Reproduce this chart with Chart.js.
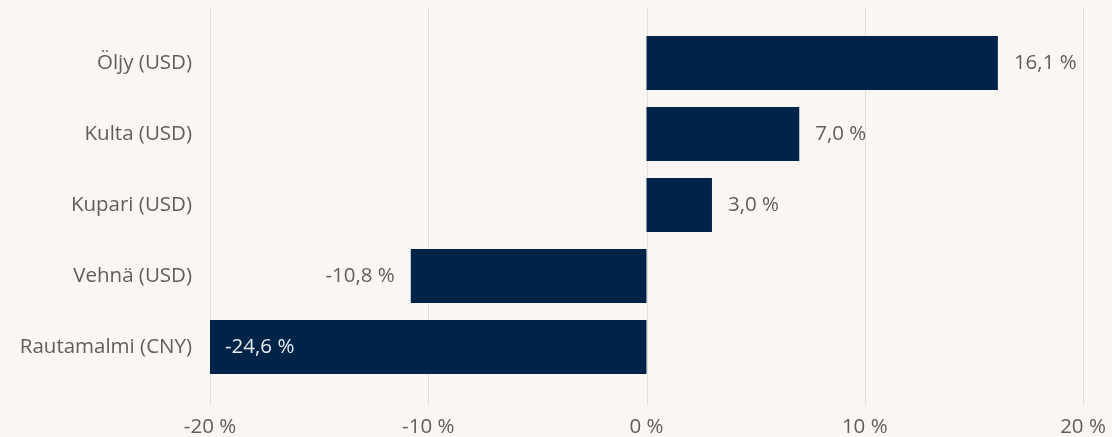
<!DOCTYPE html>
<html>
<head>
<meta charset="utf-8">
<script src="https://cdn.jsdelivr.net/npm/chart.js@4.4.1/dist/chart.umd.min.js"></script>
<style>
    html, body { margin: 0; padding: 0; background: #faf6f4; }
    #wrap { width: 1112px; height: 437px; }
</style>
</head>
<body>
<div id="wrap"><canvas id="chart" width="1112" height="437"></canvas></div>
<script>
// Commodity price change (%)
const categories = ['Öljy (USD)', 'Kulta (USD)', 'Kupari (USD)', 'Vehnä (USD)', 'Rautamalmi (CNY)'];
const changes = [16.1, 7.0, 3.0, -10.8, -24.6];
const axisMin = -20;
const axisMax = 20;
const axisStep = 10;

const FONT = '"Open Sans", "Noto Sans", sans-serif';
const FONT_SIZE = 20.5;
const textGray = '#605e5c';

function fmt(v, digits) {
    return v.toFixed(digits).replace('.', ',') + ' %';
}

// vertical grid lines that run a bit past the plot area, like the original
const gridPlugin = {
    id: 'longGrid',
    beforeDatasetsDraw(chart) {
        const { ctx, chartArea, scales } = chart;
        ctx.save();
        ctx.strokeStyle = '#e2dedc';
        ctx.lineWidth = 1;
        scales.x.ticks.forEach(t => {
            const x = Math.round(scales.x.getPixelForValue(t.value)) + 0.5;
            ctx.beginPath();
            ctx.moveTo(x, chartArea.top - 20.5);
            ctx.lineTo(x, chartArea.bottom + 22.5);
            ctx.stroke();
        });
        ctx.restore();
    }
};

// value labels: outside the bar end, or inside when the bar is cut by the axis
const labelPlugin = {
    id: 'valueLabels',
    afterDatasetsDraw(chart) {
        const { ctx, chartArea } = chart;
        const meta = chart.getDatasetMeta(0);
        ctx.save();
        ctx.font = FONT_SIZE + 'px ' + FONT;
        ctx.textBaseline = 'middle';
        meta.data.forEach((bar, i) => {
            const v = changes[i];
            const txt = fmt(v, 1);
            const clipped = bar.x < chartArea.left || bar.x > chartArea.right;
            if (clipped) {
                ctx.fillStyle = '#e6ebf1';
                if (v < 0) {
                    ctx.textAlign = 'left';
                    ctx.fillText(txt, chartArea.left + 15, bar.y);
                } else {
                    ctx.textAlign = 'right';
                    ctx.fillText(txt, chartArea.right - 15, bar.y);
                }
            } else {
                ctx.fillStyle = textGray;
                if (v >= 0) {
                    ctx.textAlign = 'left';
                    ctx.fillText(txt, bar.x + 16, bar.y);
                } else {
                    ctx.textAlign = 'right';
                    ctx.fillText(txt, bar.x - 16, bar.y);
                }
            }
        });
        ctx.restore();
    }
};

const ctx = document.getElementById('chart').getContext('2d');
new Chart(ctx, {
    type: 'bar',
    data: {
        labels: categories,
        datasets: [{
            data: changes,
            backgroundColor: '#002448',
            borderWidth: 0,
            barPercentage: 0.76,
            categoryPercentage: 1
        }]
    },
    options: {
        indexAxis: 'y',
        responsive: false,
        animation: false,
        layout: { padding: { top: 27.5, right: 29, bottom: 0, left: 0 } },
        plugins: {
            legend: { display: false },
            tooltip: { enabled: false }
        },
        scales: {
            x: {
                min: axisMin,
                max: axisMax,
                grid: { display: false, drawTicks: false },
                border: { display: false },
                ticks: {
                    stepSize: axisStep,
                    padding: 32,
                    color: textGray,
                    font: { family: FONT, size: FONT_SIZE },
                    callback: v => v + ' %'
                },
                afterFit: s => {
                    s.height = 54.5;
                    s.paddingLeft = 0;
                    s.paddingRight = 0;
                }
            },
            y: {
                grid: { display: false, drawTicks: false },
                border: { display: false },
                ticks: {
                    padding: 18,
                    color: textGray,
                    font: { family: FONT, size: FONT_SIZE }
                },
                afterFit: s => {
                    s.width = 210;
                    s.paddingTop = 0;
                    s.paddingBottom = 0;
                }
            }
        }
    },
    plugins: [gridPlugin, labelPlugin]
});
</script>
</body>
</html>
